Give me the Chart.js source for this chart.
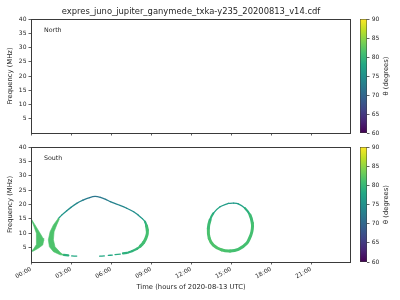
<!DOCTYPE html>
<html>
<head>
<meta charset="utf-8">
<script src="https://cdn.jsdelivr.net/npm/chart.js@4.4.1/dist/chart.umd.min.js"></script>
<style>
  html, body { margin: 0; padding: 0; background: #fff; }
  #wrap { position: relative; width: 400px; height: 300px; }
  #wrap canvas { position: absolute; left: 0; top: 0; }
</style>
</head>
<body>
<div id="wrap">
  <canvas id="north" width="400" height="300"></canvas>
  <canvas id="south" width="400" height="300"></canvas>
  <canvas id="cbarNorth" width="400" height="300"></canvas>
  <canvas id="cbarSouth" width="400" height="300"></canvas>
</div>
<script>
const titleText  = 'expres_juno_jupiter_ganymede_txka-y235_20200813_v14.cdf';
const hourTicks  = [0, 3, 6, 9, 12, 15, 18, 21];
const hourLabels = ['00:00', '03:00', '06:00', '09:00', '12:00', '15:00', '18:00', '21:00'];
const freqTicks  = [5, 10, 15, 20, 25, 30, 35, 40];
const thetaTicks = [60, 65, 70, 75, 80, 85, 90];

// South emission (hours, MHz, theta in degrees)
// filled crescent at the start of the day (outline)
const crescentHours = [0.0, 0.3, 0.68, 0.9, 0.95, 0.88, 0.55, 0.18, 0.0, 0.05, 0.23, 0.38, 0.43, 0.38, 0.18, 0.02, 0.0];
const crescentMHz   = [15.1, 12.9, 10.0, 8.3, 7.4, 5.9, 4.8, 3.8, 3.6, 3.8, 4.8, 5.9, 7.7, 10.0, 12.9, 14.8, 15.1];
const crescentTheta = 81.5;

// thick left band of the big morning loop (outline)
const bandHours = [2.05, 1.68, 1.43, 1.3, 1.38, 1.68, 2.18, 2.45, 2.2, 1.8, 1.68, 1.73, 1.93, 2.12, 2.05];
const bandMHz   = [15.2, 12.9, 10.5, 7.7, 5.3, 3.6, 2.5, 2.4, 3.3, 5.3, 7.7, 10.5, 12.9, 14.9, 15.2];
const bandTheta = 81.5;

// upper arc and right flank of the big loop
const loopHours = [2.05, 2.3, 2.68, 3.0, 3.43, 3.9, 4.4, 4.8, 5.2, 5.6, 5.95, 6.5, 7.18, 7.7, 8.05, 8.35, 8.55, 8.66, 8.72, 8.72, 8.62, 8.45, 8.2, 7.95, 7.6, 7.3];
const loopMHz   = [15.1, 16.3, 17.8, 19.0, 20.4, 21.5, 22.4, 22.8, 22.5, 21.8, 21.0, 20.0, 18.7, 17.5, 16.3, 15.1, 14.0, 12.6, 11.1, 9.8, 8.3, 6.8, 5.5, 4.6, 3.8, 3.3];
const loopTheta = [77, 76, 75, 74.5, 74, 73, 72, 71.5, 72, 72.5, 73, 73.5, 74, 74.5, 75, 76, 78, 80, 81, 81, 81, 81, 80.5, 80, 79.5, 79];

// broken lower edge of the big loop (null = gap)
const lowHours = [2.45, 2.8, null, 3.05, 3.43, null, 5.15, 5.5, null, 5.8, 6.1, null, 6.3, 6.7, null, 6.9, 7.2];
const lowMHz   = [2.5, 2.3, null, 2.1, 2.05, null, 2.05, 2.1, null, 2.3, 2.4, null, 2.6, 2.75, null, 3.0, 3.15];
const lowTheta = [79, 79, null, 78, 78, null, 78, 78, null, 78, 78, null, 78.5, 78.5, null, 79, 79];

// afternoon oval
const ovalHours = [14.8, 15.2, 15.55, 16.05, 16.43, 16.6, 16.6, 16.5, 16.18, 15.55, 14.93, 14.3, 13.67, 13.37, 13.3, 13.43, 13.67, 14.18, 14.8];
const ovalMHz   = [20.4, 20.45, 20.2, 18.7, 16.3, 13.5, 11.5, 9.5, 6.5, 4.4, 3.8, 4.2, 5.9, 8.2, 11.7, 14.6, 16.9, 19.2, 20.4];
const ovalTheta = [76, 76, 76.5, 78, 80, 81, 81, 81, 81, 81, 81, 81.5, 81.5, 81.5, 81, 80, 78.5, 77, 76];

const FONT = "'DejaVu Sans', sans-serif";
const INK = '#262626';
const SPINE = '#3a3a3a';
const VIRIDIS = ['#440154', '#482475', '#414487', '#355f8d', '#2a788e', '#21918c',
                 '#22a884', '#44bf70', '#7ad151', '#bddf26', '#fde725'];

function hexRgb(h) {
  return [1, 3, 5].map(i => parseInt(h.slice(i, i + 2), 16));
}

function viridis(theta) {
  const t = Math.min(1, Math.max(0, (theta - 60) / 30)) * (VIRIDIS.length - 1);
  const i = Math.min(Math.floor(t), VIRIDIS.length - 2);
  const f = t - i;
  const a = hexRgb(VIRIDIS[i]), b = hexRgb(VIRIDIS[i + 1]);
  const c = a.map((v, k) => Math.round(v + (b[k] - v) * f));
  return `rgb(${c[0]},${c[1]},${c[2]})`;
}

// broader emission shows up where theta is high
function widthFor(theta) {
  if (theta >= 80.5) return 3.0;
  if (theta >= 79) return 2.2;
  return 1.3;
}

function points(hours, mhz, theta) {
  return hours.map((h, i) => ({
    x: h,
    y: mhz[i],
    theta: Array.isArray(theta) ? theta[i] : theta
  }));
}

function segTheta(ctx) {
  const data = ctx.chart.data.datasets[ctx.datasetIndex].data;
  return (data[ctx.p0DataIndex].theta + data[ctx.p1DataIndex].theta) / 2;
}

function shape(hours, mhz, theta) {
  return {
    type: 'line',
    data: points(hours, mhz, theta),
    fill: 'shape',
    backgroundColor: viridis(theta),
    borderColor: viridis(theta),
    borderWidth: 0.6,
    pointRadius: 0,
    tension: 0
  };
}

function track(hours, mhz, theta) {
  return {
    type: 'line',
    data: points(hours, mhz, theta),
    fill: false,
    pointRadius: 0,
    tension: 0.3,
    borderCapStyle: 'round',
    borderJoinStyle: 'round',
    segment: {
      borderColor: ctx => viridis(segTheta(ctx)),
      borderWidth: ctx => widthFor(segTheta(ctx))
    }
  };
}

const panelDecor = {
  id: 'panelDecor',
  afterDraw(chart, args, opts) {
    const {ctx, chartArea: a} = chart;
    ctx.save();
    ctx.strokeStyle = SPINE;
    ctx.lineWidth = 1;
    ctx.strokeRect(a.left + 0.5, a.top + 0.5, a.right - a.left - 1, a.bottom - a.top);
    ctx.fillStyle = INK;
    ctx.textAlign = 'left';
    ctx.textBaseline = 'alphabetic';
    ctx.font = `6.3px ${FONT}`;
    ctx.fillText(opts.label, a.left + 13, a.top + 13);
    if (opts.title) {
      ctx.textAlign = 'center';
      ctx.font = `8.4px ${FONT}`;
      ctx.fillText(opts.title, (a.left + a.right) / 2, 13.7);
    }
    ctx.restore();
  }
};

function panelOptions(top, bottom, label, showHours, title) {
  return {
    responsive: false,
    animation: false,
    devicePixelRatio: 1,
    layout: { padding: { left: 0, top: top, right: 49, bottom: showHours ? 0 : 300 - bottom - 4 } },
    plugins: {
      legend: { display: false },
      tooltip: { enabled: false },
      panelDecor: { label: label, title: title }
    },
    scales: {
      x: {
        type: 'linear',
        min: 0,
        max: 24,
        afterBuildTicks: s => { s.ticks = hourTicks.map(v => ({ value: v })); },
        afterFit: s => { s.height = showHours ? 38 : 4; },
        ticks: {
          display: showHours,
          autoSkip: false,
          minRotation: 30,
          maxRotation: 30,
          padding: 1,
          color: INK,
          font: { family: FONT, size: 6 },
          callback: (v, i) => hourLabels[i]
        },
        grid: { drawOnChartArea: false, tickLength: 2.5, color: SPINE, lineWidth: 0.8 },
        border: { display: false },
        title: {
          display: showHours,
          text: 'Time (hours of 2020-08-13 UTC)',
          color: INK,
          font: { family: FONT, size: 6.8 },
          padding: { top: 0, bottom: 9 }
        }
      },
      y: {
        type: 'linear',
        min: 0,
        max: 40,
        afterBuildTicks: s => { s.ticks = freqTicks.map(v => ({ value: v })); },
        afterFit: s => { s.width = 31; },
        ticks: { padding: 2, color: INK, font: { family: FONT, size: 6 } },
        grid: { drawOnChartArea: false, tickLength: 2.5, color: SPINE, lineWidth: 0.8 },
        border: { display: false },
        title: {
          display: true,
          text: 'Frequency (MHz)',
          color: INK,
          font: { family: FONT, size: 6.8 },
          padding: { top: 6, bottom: 0 }
        }
      }
    }
  };
}

new Chart(document.getElementById('north'), {
  type: 'line',
  data: { datasets: [] },
  options: panelOptions(19, 133, 'North', false, titleText),
  plugins: [panelDecor]
});

new Chart(document.getElementById('south'), {
  type: 'line',
  data: {
    datasets: [
      shape(crescentHours, crescentMHz, crescentTheta),
      shape(bandHours, bandMHz, bandTheta),
      track(loopHours, loopMHz, loopTheta),
      track(lowHours, lowMHz, lowTheta),
      track(ovalHours, ovalMHz, ovalTheta)
    ]
  },
  options: panelOptions(147, 262, 'South', true, null),
  plugins: [panelDecor]
});

// colour bars
const cbarLabel = {
  id: 'cbarLabel',
  afterDraw(chart) {
    const {ctx, chartArea: a} = chart;
    ctx.save();
    ctx.translate(386.7, (a.top + a.bottom) / 2);
    ctx.rotate(-Math.PI / 2);
    ctx.fillStyle = INK;
    ctx.textAlign = 'center';
    ctx.textBaseline = 'middle';
    ctx.font = `6.8px ${FONT}`;
    ctx.fillText('θ (degrees)', 0, 0);
    ctx.restore();
  }
};

function viridisGradient(chart) {
  const a = chart.chartArea;
  if (!a) return VIRIDIS[5];
  const g = chart.ctx.createLinearGradient(0, a.bottom, 0, a.top);
  VIRIDIS.forEach((c, i) => g.addColorStop(i / (VIRIDIS.length - 1), c));
  return g;
}

function colorBar(id, top, bottom) {
  new Chart(document.getElementById(id), {
    type: 'bar',
    data: {
      labels: ['θ'],
      datasets: [{
        data: [[thetaTicks[0], thetaTicks[thetaTicks.length - 1]]],
        backgroundColor: ctx => viridisGradient(ctx.chart),
        borderColor: SPINE,
        borderWidth: 0.8,
        borderSkipped: false,
        barPercentage: 1,
        categoryPercentage: 1
      }]
    },
    options: {
      responsive: false,
      animation: false,
      devicePixelRatio: 1,
      layout: { padding: { left: 360, top: top, right: 0, bottom: 300 - bottom } },
      plugins: { legend: { display: false }, tooltip: { enabled: false } },
      scales: {
        x: { display: false },
        y: {
          position: 'right',
          min: 60,
          max: 90,
          afterBuildTicks: s => { s.ticks = thetaTicks.map(v => ({ value: v })); },
          afterFit: s => { s.width = 33; },
          ticks: { padding: 2.2, color: INK, font: { family: FONT, size: 6 } },
          grid: { drawOnChartArea: false, tickLength: 2.5, color: SPINE, lineWidth: 0.8 },
          border: { display: false }
        }
      }
    },
    plugins: [cbarLabel]
  });
}

colorBar('cbarNorth', 19, 133);
colorBar('cbarSouth', 147, 262);
</script>
</body>
</html>
